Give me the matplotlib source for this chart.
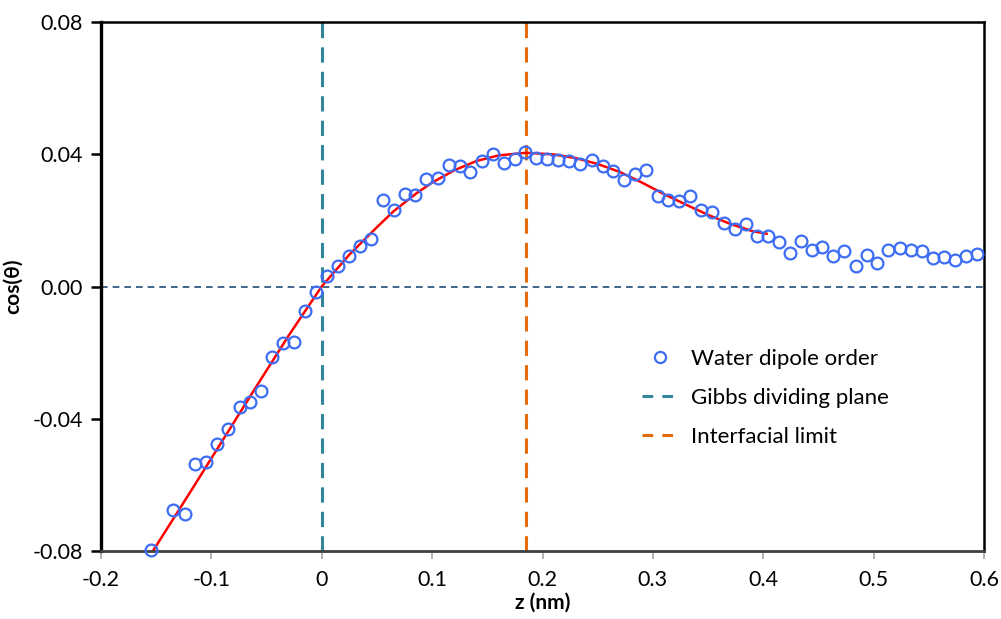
import numpy as np
import matplotlib.pyplot as plt
from matplotlib.lines import Line2D

## Données
# Ordre dipolaire de l'eau (points)
z_pts = [-0.155, -0.135, -0.124, -0.115, -0.105, -0.095, -0.085, -0.074, -0.065, -0.055,
         -0.045, -0.035, -0.025, -0.015, -0.005, 0.005, 0.015, 0.025, 0.035, 0.045,
         0.055, 0.065, 0.075, 0.084, 0.094, 0.105, 0.115, 0.125, 0.134, 0.145,
         0.155, 0.165, 0.175, 0.184, 0.194, 0.204, 0.214, 0.224, 0.234, 0.245,
         0.255, 0.264, 0.274, 0.284, 0.294, 0.305, 0.314, 0.324, 0.334, 0.344,
         0.354, 0.364, 0.374, 0.384, 0.394, 0.404, 0.414, 0.424, 0.434, 0.444,
         0.453, 0.463, 0.473, 0.484, 0.494, 0.503, 0.513, 0.524, 0.534, 0.544,
         0.554, 0.564, 0.574, 0.584, 0.594]
cos_pts = [-0.0796, -0.0677, -0.0689, -0.0536, -0.0531, -0.0475, -0.0432, -0.0365, -0.0350, -0.0315,
           -0.0213, -0.0172, -0.0167, -0.0073, -0.0017, 0.0033, 0.0061, 0.0094, 0.0124, 0.0145,
           0.0263, 0.0231, 0.0281, 0.0278, 0.0327, 0.0329, 0.0368, 0.0364, 0.0348, 0.0379,
           0.0402, 0.0374, 0.0386, 0.0406, 0.0389, 0.0386, 0.0382, 0.0379, 0.0371, 0.0382,
           0.0366, 0.0349, 0.0322, 0.0341, 0.0352, 0.0273, 0.0263, 0.0258, 0.0273, 0.0233,
           0.0225, 0.0193, 0.0175, 0.0190, 0.0154, 0.0154, 0.0134, 0.0102, 0.0139, 0.0110,
           0.0120, 0.0092, 0.0109, 0.0061, 0.0097, 0.0070, 0.0110, 0.0117, 0.0112, 0.0107,
           0.0087, 0.0090, 0.0082, 0.0094, 0.0100]

# Courbe d'ajustement (rouge)
z_fit = [-0.153, -0.12, -0.09, -0.06, -0.03, 0.0, 0.025, 0.05, 0.065, 0.086, 0.10, 0.12,
         0.14, 0.16, 0.185, 0.21, 0.23, 0.25, 0.27, 0.29, 0.31, 0.33, 0.35, 0.37, 0.39, 0.403]
cos_fit = [-0.0800, -0.0626, -0.0466, -0.0306, -0.0148, 0.0001, 0.0097, 0.0180, 0.0228, 0.0283,
           0.0315, 0.0352, 0.0380, 0.0397, 0.0405, 0.0400, 0.0389, 0.0371, 0.0347, 0.0315,
           0.0280, 0.0248, 0.0217, 0.0190, 0.0168, 0.0160]

z_gibbs = 0.0      # nm (plan de Gibbs)
z_interf = 0.185   # nm (limite interfaciale)

x_ticks = [-0.2, -0.1, 0, 0.1, 0.2, 0.3, 0.4, 0.5, 0.6]
x_labels = ['-0.2', '-0.1', '0', '0.1', '0.2', '0.3', '0.4', '0.5', '0.6']
y_ticks = [-0.08, -0.04, 0.0, 0.04, 0.08]
y_labels = ['-0.08', '-0.04', '0.00', '0.04', '0.08']

c_pts = '#3D6CF5'
c_gibbs = '#31869B'
c_interf = '#E46C0A'
c_zero = '#1F4E79'

plt.rcParams['font.family'] = ['Lato', 'DejaVu Sans']

fig = plt.figure(figsize=(10.01, 6.19), dpi=100)
ax = fig.add_axes([0.101, 0.110, 0.882, 0.854])

ax.axhline(0, color=c_zero, lw=1.2, ls=(0, (4, 3)), zorder=1)
ax.axvline(z_gibbs, color=c_gibbs, lw=2.2, ls=(0, (5, 3)), zorder=1)
ax.axvline(z_interf, color=c_interf, lw=2.2, ls=(0, (5, 3)), zorder=1)
ax.plot(z_fit, cos_fit, color='red', lw=1.8, zorder=2)
ax.plot(z_pts, cos_pts, 'o', mfc='none', mec=c_pts, mew=1.6, ms=8.5, zorder=3, clip_on=False)

ax.set_xlim(-0.2, 0.6)
ax.set_ylim(-0.08, 0.08)
ax.set_xticks(x_ticks)
ax.set_xticklabels(x_labels, fontsize=15.5)
ax.set_yticks(y_ticks)
ax.set_yticklabels(y_labels, fontsize=15.5)
ax.tick_params(axis='x', direction='out', length=6, width=1.2, color='#A6A6A6', pad=8)
ax.tick_params(axis='y', direction='out', length=7, width=1.8, color='black', pad=6)

for s in ['top', 'right']:
    ax.spines[s].set_linewidth(1.8)
    ax.spines[s].set_color('black')
ax.spines['left'].set_linewidth(2.4)
ax.spines['left'].set_color('black')
ax.spines['bottom'].set_linewidth(2.0)
ax.spines['bottom'].set_color('#404040')

ax.set_xlabel('z (nm)', fontsize=15, fontweight='bold', labelpad=2)
ax.set_ylabel('cos(θ)', fontsize=15, fontweight='bold')
ax.yaxis.set_label_coords(-0.089, 0.5)

handles = [
    Line2D([], [], ls='none', marker='o', mfc='none', mec=c_pts, mew=1.6, ms=8),
    Line2D([], [], color=c_gibbs, lw=2.2, ls=(0, (3.5, 3))),
    Line2D([], [], color=c_interf, lw=2.2, ls=(0, (3.5, 3))),
]
labels = ['Water dipole order', 'Gibbs dividing plane', 'Interfacial limit']
ax.legend(handles, labels, loc='upper left', bbox_to_anchor=(0.59, 0.42), frameon=False,
          fontsize=16, handlelength=1.6, labelspacing=0.85, handletextpad=0.6)

fig.savefig('out.png', dpi=100)
